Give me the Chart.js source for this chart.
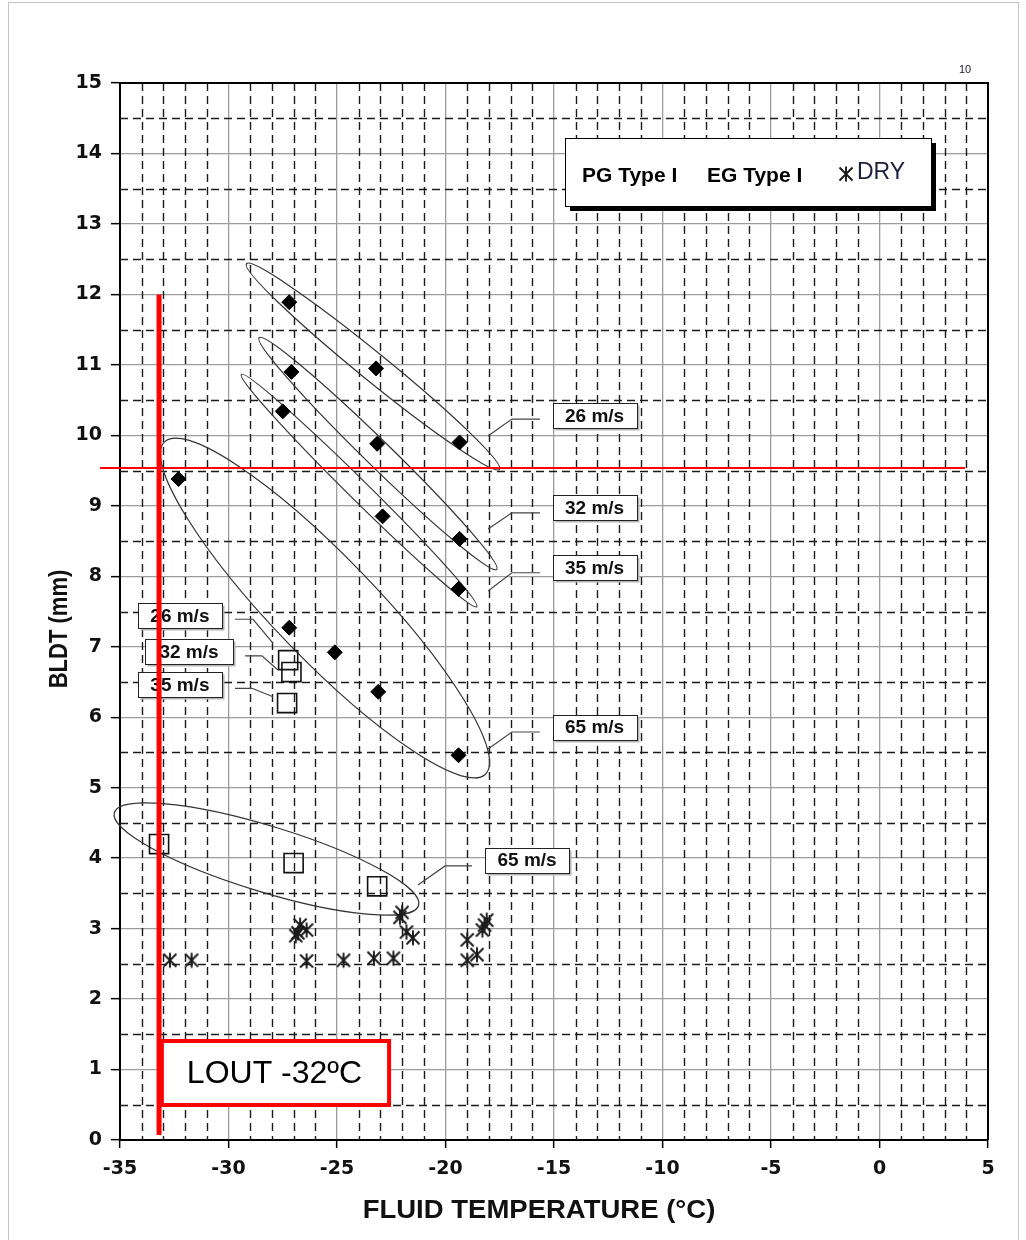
<!DOCTYPE html>
<html>
<head>
<meta charset="utf-8">
<script src="https://cdn.jsdelivr.net/npm/chart.js@4.4.1/dist/chart.umd.min.js"></script>
<style>
  html, body { margin: 0; padding: 0; background: #fff; }
  #wrap { position: relative; width: 1026px; height: 1240px; overflow: hidden; }
  #wrap canvas { position: absolute; left: 0; top: 0; }
  #frame { position: absolute; left: 8px; top: 2px; width: 1011px; height: 1250px;
           border: 1px solid #c4c4c4; box-sizing: border-box; pointer-events: none; }
</style>
</head>
<body>
<div id="wrap">
  <canvas id="chart" width="1026" height="1240"></canvas>
  <div id="frame"></div>
</div>
<script>
// ---- Measured values ----
// PG Type I fluid (filled diamonds)
const pgTemp = [-27.2, -23.2, -19.35, -27.1, -23.15, -19.35, -27.5, -22.9, -19.4, -32.3, -27.2, -25.1, -23.1, -19.4];
const pgBldt = [11.89, 10.95, 9.90, 10.90, 9.88, 8.53, 10.34, 8.85, 7.82, 9.38, 7.27, 6.92, 6.36, 5.46];

// EG Type I fluid (open squares)
const egTemp = [-27.25, -27.1, -27.3, -33.2, -27.0, -23.15];
const egBldt = [6.81, 6.64, 6.20, 4.20, 3.93, 3.60];

// Dry wing (stars)
const dryTemp = [-32.7, -31.7, -26.9, -26.8, -26.4, -26.7, -26.4, -24.7, -23.3, -22.4, -22.1, -22.0, -21.8, -21.5, -19.0, -19.0, -18.55, -18.3, -18.2, -18.1];
const dryBldt = [2.55, 2.55, 2.90, 2.94, 2.98, 3.05, 2.54, 2.55, 2.58, 2.58, 3.16, 3.23, 2.95, 2.87, 2.84, 2.55, 2.63, 2.98, 3.05, 3.12];

// Axis ticks and titles
const xTicks = [-35, -30, -25, -20, -15, -10, -5, 0, 5];
const yTicks = [0, 1, 2, 3, 4, 5, 6, 7, 8, 9, 10, 11, 12, 13, 14, 15];
const xTitle = 'FLUID TEMPERATURE (°C)';
const yTitle = 'BLDT (mm)';

// Wind-speed groupings: major-axis end points [temp, bldt, temp, bldt]
const groupAxes = [
  [-29.17, 12.435, -17.51, 9.517],   // PG 26 m/s
  [-28.59, 11.386, -17.64, 8.097],   // PG 32 m/s
  [-29.41, 10.865, -18.56, 7.568],   // PG 35 m/s
  [-32.95, 9.908, -18.16, 5.191],    // PG 65 m/s
  [-35.26, 4.647, -21.24, 3.328]     // EG 65 m/s
];
const groupHalfWidth = [14, 13, 10, 51, 33];

// Callout labels: text, box centre, leader start, knee, tip (temp, bldt pairs)
const calloutText = ['26 m/s', '32 m/s', '35 m/s', '65 m/s', '26 m/s', '32 m/s', '35 m/s', '65 m/s'];
const calloutBox = [[-13.13, 10.28], [-13.13, 8.97], [-13.13, 8.12], [-13.13, 5.86],
                    [-32.24, 7.44], [-31.82, 6.93], [-32.24, 6.46], [-16.24, 3.97]];
const calloutLeader = [
  [[-15.65, 10.23], [-16.94, 10.23], [-18.04, 9.99]],
  [[-15.65, 8.90], [-16.94, 8.90], [-18.04, 8.67]],
  [[-15.65, 8.05], [-16.94, 8.05], [-18.04, 7.79]],
  [[-15.65, 5.79], [-16.94, 5.79], [-18.04, 5.55]],
  [[-29.70, 7.39], [-28.87, 7.39], [-27.95, 7.05]],
  [[-29.24, 6.87], [-28.46, 6.87], [-27.72, 6.67]],
  [[-29.70, 6.41], [-28.92, 6.41], [-27.95, 6.29]],
  [[-18.78, 3.89], [-20.02, 3.89], [-21.27, 3.62]]
];
const calloutWide = [false, false, false, false, false, true, false, false];

// Lowest operational use temperature limit and reference thickness
const loutTemp = -33.2;
const loutSpan = [0.07, 12.0];
const refBldt = 9.535;
const refSpan = [-35.92, 3.94];
const loutBox = [-33.07, 1.405, -22.6, 0.497];
const loutText = 'LOUT -32ºC';

const pts = (xs, ys) => xs.map((x, i) => ({ x, y: ys[i] }));

// Asterisk marker (X with a vertical stroke)
function makeStar(size, lw) {
  const c = document.createElement('canvas');
  c.width = size; c.height = size;
  const g = c.getContext('2d');
  const m = size / 2, r = size / 2 - 2.5;
  g.strokeStyle = '#1a1a1a';
  g.lineWidth = lw;
  g.beginPath();
  g.moveTo(m - r, m - r); g.lineTo(m + r, m + r);
  g.moveTo(m + r, m - r); g.lineTo(m - r, m + r);
  g.moveTo(m, m - r - 1); g.lineTo(m, m + r + 1);
  g.stroke();
  return c;
}
const starImg = makeStar(18, 1.9);

const overlay = {
  id: 'overlay',
  beforeDatasetsDraw(chart) {
    const { ctx, chartArea: a, scales: { x, y } } = chart;
    ctx.save();
    // minor dashed grid
    ctx.strokeStyle = '#1a1a1a';
    ctx.lineWidth = 1.4;
    ctx.setLineDash([8, 5]);
    ctx.beginPath();
    for (let v = -34; v < 5; v++) {
      if (v % 5 === 0) continue;
      const px = Math.round(x.getPixelForValue(v)) + 0.5;
      ctx.moveTo(px, a.top); ctx.lineTo(px, a.bottom);
    }
    for (let v = 0.5; v < 15; v += 1) {
      const py = Math.round(y.getPixelForValue(v)) + 0.5;
      ctx.moveTo(a.left, py); ctx.lineTo(a.right, py);
    }
    ctx.stroke();
    ctx.setLineDash([]);
    // frame top / right
    ctx.strokeStyle = '#000';
    ctx.lineWidth = 2;
    ctx.beginPath();
    ctx.moveTo(a.left, a.top); ctx.lineTo(a.right, a.top); ctx.lineTo(a.right, a.bottom);
    ctx.stroke();
    // group outlines
    ctx.strokeStyle = '#333';
    ctx.lineWidth = 1.2;
    groupAxes.forEach((g, i) => {
      const x1 = x.getPixelForValue(g[0]), y1 = y.getPixelForValue(g[1]);
      const x2 = x.getPixelForValue(g[2]), y2 = y.getPixelForValue(g[3]);
      const cx = (x1 + x2) / 2, cy = (y1 + y2) / 2;
      const ra = Math.hypot(x2 - x1, y2 - y1) / 2;
      const th = Math.atan2(y2 - y1, x2 - x1);
      ctx.beginPath();
      ctx.ellipse(cx, cy, ra, groupHalfWidth[i], th, 0, Math.PI * 2);
      ctx.stroke();
    });
    ctx.restore();
  },
  afterDatasetsDraw(chart) {
    const { ctx, chartArea: a, scales: { x, y } } = chart;
    ctx.save();
    // callouts
    calloutText.forEach((t, i) => {
      const L = calloutLeader[i];
      ctx.strokeStyle = '#444';
      ctx.lineWidth = 1.2;
      ctx.beginPath();
      ctx.moveTo(x.getPixelForValue(L[0][0]), y.getPixelForValue(L[0][1]));
      ctx.lineTo(x.getPixelForValue(L[1][0]), y.getPixelForValue(L[1][1]));
      ctx.lineTo(x.getPixelForValue(L[2][0]), y.getPixelForValue(L[2][1]));
      ctx.stroke();
      const cx = x.getPixelForValue(calloutBox[i][0]);
      const cy = y.getPixelForValue(calloutBox[i][1]);
      const w = calloutWide[i] ? 88 : 84, h = 25;
      const bx = Math.round(cx - w / 2) + 0.5, by = Math.round(cy - h / 2) + 0.5;
      ctx.fillStyle = '#b5b5b5';
      ctx.fillRect(bx + 2, by + 2, w, h);
      ctx.fillStyle = '#fff';
      ctx.fillRect(bx, by, w, h);
      ctx.strokeStyle = '#222';
      ctx.lineWidth = 1;
      ctx.strokeRect(bx, by, w, h);
      ctx.fillStyle = '#111';
      ctx.font = 'bold 19px "Liberation Sans", Arial, sans-serif';
      ctx.textAlign = 'center';
      ctx.textBaseline = 'middle';
      ctx.fillText(t, cx, cy + 1);
    });
    // reference lines
    ctx.strokeStyle = '#ff0000';
    ctx.lineWidth = 2;
    ctx.beginPath();
    const ry = y.getPixelForValue(refBldt);
    ctx.moveTo(x.getPixelForValue(refSpan[0]), ry);
    ctx.lineTo(x.getPixelForValue(refSpan[1]), ry);
    ctx.stroke();
    ctx.lineWidth = 5;
    ctx.beginPath();
    const lx = x.getPixelForValue(loutTemp);
    ctx.moveTo(lx, y.getPixelForValue(loutSpan[0]));
    ctx.lineTo(lx, y.getPixelForValue(loutSpan[1]));
    ctx.stroke();
    // LOUT box
    const b0 = x.getPixelForValue(loutBox[0]), b1 = y.getPixelForValue(loutBox[1]);
    const b2 = x.getPixelForValue(loutBox[2]), b3 = y.getPixelForValue(loutBox[3]);
    ctx.fillStyle = '#fff';
    ctx.fillRect(b0, b1, b2 - b0, b3 - b1);
    ctx.lineWidth = 4;
    ctx.strokeRect(b0, b1, b2 - b0, b3 - b1);
    ctx.fillStyle = '#000';
    ctx.font = '32px "Liberation Sans", Arial, sans-serif';
    ctx.textAlign = 'center';
    ctx.textBaseline = 'middle';
    ctx.fillText(loutText, (b0 + b2) / 2 - 1, (b1 + b3) / 2 + 1);
    // legend box
    const lgR = a.right - 57, lgT = a.top + 55, lgW = 366, lgH = 68;
    const lgL = lgR - lgW;
    ctx.fillStyle = '#000';
    ctx.fillRect(lgL + 5, lgT + 5, lgW, lgH);
    ctx.fillStyle = '#fff';
    ctx.fillRect(lgL, lgT, lgW, lgH);
    ctx.strokeStyle = '#000';
    ctx.lineWidth = 1;
    ctx.strokeRect(lgL + 0.5, lgT + 0.5, lgW, lgH);
    ctx.fillStyle = '#000';
    ctx.textAlign = 'left';
    ctx.font = 'bold 21px "Liberation Sans", Arial, sans-serif';
    ctx.fillText('PG Type I', lgL + 17, lgT + 38);
    ctx.fillText('EG Type I', lgL + 142, lgT + 38);
    ctx.drawImage(starImg, lgL + 272, lgT + 27);
    ctx.fillStyle = '#1a1f3d';
    ctx.font = '23px "Liberation Sans", Arial, sans-serif';
    ctx.fillText('DRY', lgL + 292, lgT + 35);
    // page number mark
    ctx.fillStyle = '#223';
    ctx.font = '11px "Liberation Sans", Arial, sans-serif';
    ctx.textAlign = 'center';
    ctx.fillText('10', x.getPixelForValue(refSpan[1]), a.top - 13);
    // axis titles
    ctx.fillStyle = '#111';
    ctx.save();
    ctx.translate(539, 1211);
    ctx.scale(1.1, 1);
    ctx.font = 'bold 25px "Liberation Sans", Arial, sans-serif';
    ctx.fillText(xTitle, 0, 0);
    ctx.restore();
    ctx.save();
    ctx.translate(60, 629);
    ctx.rotate(-Math.PI / 2);
    ctx.scale(1, 1.15);
    ctx.font = 'bold 22px "Liberation Sans", Arial, sans-serif';
    ctx.fillText(yTitle, 0, 0);
    ctx.restore();
    ctx.restore();
  }
};

const tickFont = { family: '"DejaVu Sans", sans-serif', weight: 'bold', size: 19 };

new Chart(document.getElementById('chart'), {
  type: 'scatter',
  data: {
    datasets: [
      { label: 'PG Type I', data: pts(pgTemp, pgBldt), pointStyle: 'rectRot', pointRadius: 7.5,
        backgroundColor: '#000', borderColor: '#000', borderWidth: 1 },
      { label: 'EG Type I', data: pts(egTemp, egBldt), pointStyle: 'rect', pointRadius: 13.5,
        backgroundColor: 'rgba(0,0,0,0)', borderColor: '#111', borderWidth: 1.6 },
      { label: 'DRY', data: pts(dryTemp, dryBldt), pointStyle: starImg, pointRadius: 7,
        backgroundColor: '#111', borderColor: '#111' }
    ]
  },
  options: {
    responsive: false,
    animation: false,
    events: [],
    layout: { padding: { left: 0, top: 83, right: 38, bottom: 0 } },
    plugins: { legend: { display: false }, tooltip: { enabled: false } },
    scales: {
      x: {
        type: 'linear', min: -35, max: 5,
        afterBuildTicks: s => { s.ticks = xTicks.map(v => ({ value: v })); },
        afterFit: s => { s.height = 100; },
        grid: { color: '#9c9c9c', lineWidth: 1.3, tickColor: '#000', tickLength: 8, tickWidth: 1.5 },
        border: { color: '#000', width: 2 },
        ticks: { font: tickFont, color: '#111', padding: 10, maxRotation: 0, autoSkip: false },
        title: { display: false }
      },
      y: {
        type: 'linear', min: 0, max: 15,
        afterBuildTicks: s => { s.ticks = yTicks.map(v => ({ value: v })); },
        afterFit: s => { s.width = 120; },
        grid: { color: '#9c9c9c', lineWidth: 1.3, tickColor: '#000', tickLength: 9, tickWidth: 1.5 },
        border: { color: '#000', width: 2 },
        ticks: { font: tickFont, color: '#111', padding: 9 },
        title: { display: false }
      }
    }
  },
  plugins: [overlay]
});
</script>
</body>
</html>
